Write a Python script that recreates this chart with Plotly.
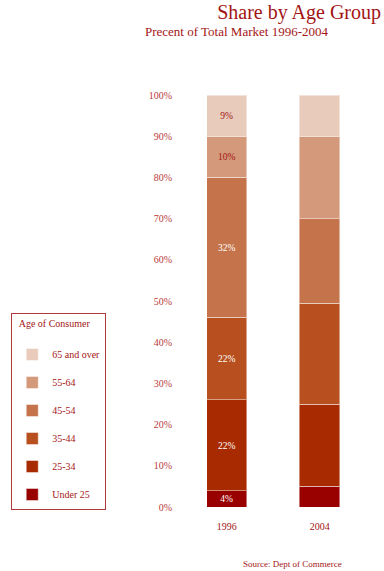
import plotly.graph_objects as go

years = ["1996", "2004"]
groups = ["Under 25", "25-34", "35-44", "45-54", "55-64", "65 and over"]
values_1996 = [4, 22, 20, 34, 10, 10]
values_2004 = [5, 20, 24.5, 20.5, 20, 10]
labels_1996 = ["4%", "22%", "22%", "32%", "10%", "9%"]
colors = ["#990000", "#a82a00", "#b7501e", "#c5734a", "#d4987a", "#e8cbbb"]
label_colors = ["white", "white", "white", "white", "#a31515", "#a31515"]
yticks = list(range(0, 101, 10))
ytick_labels = [f"{v}%" for v in yticks]

FONT = "Liberation Serif"
RED = "#a31515"
L, R, T, B = 170, 16, 95, 64
PW = 384 - L - R
PH = 571 - T - B

def px(xp):
    return (xp - L) / PW

def py(yp):
    return (571 - B - yp) / PH

fig = go.Figure()
for i, g in enumerate(groups):
    fig.add_trace(go.Bar(
        name=g,
        x=years,
        y=[values_1996[i], values_2004[i]],
        text=[labels_1996[i], ""],
        textposition="inside",
        insidetextanchor="middle",
        textfont=dict(family=FONT, size=10, color=label_colors[i]),
        marker=dict(color=colors[i], line=dict(color="rgba(255,255,255,0.45)", width=1)),
        width=0.434,
        legendrank=len(groups) - i,
        legendgroup=g,
        hoverinfo="skip",
    ))

fig.update_layout(
    barmode="stack",
    width=384, height=571,
    margin=dict(l=L, r=R, t=T, b=B),
    plot_bgcolor="white", paper_bgcolor="white",
    font=dict(family=FONT, color=RED),
    uniformtext=dict(minsize=6, mode="show"),
    title=dict(text="Share by Age Group", x=381/384, xanchor="right", xref="container",
               y=1 - 12/571, yanchor="middle", yref="container",
               font=dict(family=FONT, size=20, color=RED)),
    xaxis=dict(range=[-0.556, 1.520], showgrid=False, zeroline=False, showline=False,
               ticklabelstandoff=12, tickfont=dict(family=FONT, size=10, color=RED)),
    yaxis=dict(range=[0, 100], tickvals=yticks, ticktext=ytick_labels, showgrid=False,
               zeroline=False, showline=False, ticklabelstandoff=2,
               tickfont=dict(family=FONT, size=10, color="#b83a3a")),
    legend=dict(
        title=dict(text="  Age of Consumer<br> ",
                   font=dict(family=FONT, size=10, color=RED)),
        traceorder="grouped",
        tracegroupgap=9,
        x=px(2), xanchor="left",
        y=py(313), yanchor="top",
        bordercolor="#b03a3a", borderwidth=1,
        bgcolor="white",
        font=dict(family=FONT, size=10, color=RED),
        itemclick=False, itemdoubleclick=False,
    ),
    annotations=[
        dict(text="Precent of Total Market 1996-2004", xref="paper", yref="paper",
             x=px(137), y=py(32), xanchor="left", yanchor="middle",
             showarrow=False, font=dict(family=FONT, size=13, color=RED)),
        dict(text="Source: Dept of Commerce", xref="paper", yref="paper",
             x=px(238), y=py(564), xanchor="left", yanchor="middle",
             showarrow=False, font=dict(family=FONT, size=9, color=RED)),
    ],
)

fig.write_html("out.html", config={"displayModeBar": False},
               post_script="document.body.style.margin='0';")
